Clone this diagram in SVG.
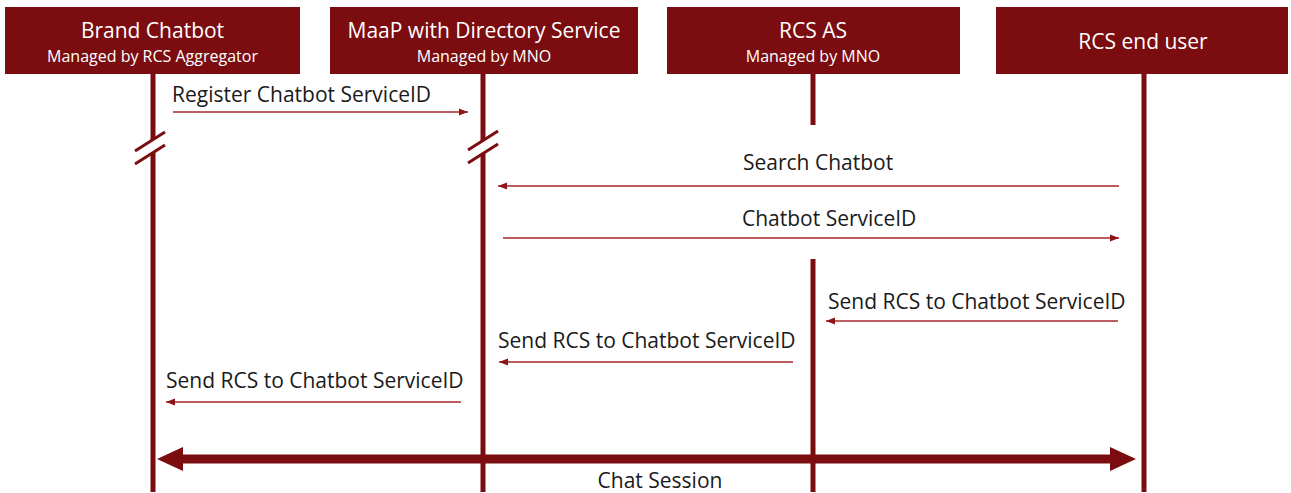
<svg xmlns="http://www.w3.org/2000/svg" width="1291" height="493" viewBox="0 0 1291 493">
  <defs>
    <style>
      .box { fill: #7B0C10; }
      .title { font-family: "Open Sans", "Noto Sans", sans-serif; font-size: 21px; fill: #ffffff; text-anchor: middle; }
      .sub { font-family: "Open Sans", "Noto Sans", sans-serif; font-size: 16px; fill: #ffffff; text-anchor: middle; }
      .life { stroke: #7B0C10; stroke-width: 5; fill: none; }
      .msg { stroke: #A3262B; stroke-width: 1.3; fill: none; }
      .lbl { font-family: "Open Sans", "Noto Sans", sans-serif; font-size: 21px; fill: #1a1a1a; }
      .brk { fill: #ffffff; stroke: none; }
      .slash { stroke: #7B0C10; stroke-width: 3; fill: none; }
      .big { stroke: #7B0C10; stroke-width: 9; fill: none; }
    </style>
    <marker id="ah" viewBox="0 0 10 8" refX="10" refY="4" markerUnits="userSpaceOnUse" markerWidth="9" markerHeight="7.5" orient="auto">
      <path d="M0,0 L10,4 L0,8 Z" fill="#8E1418"/>
    </marker>
  </defs>
  <rect width="1291" height="493" fill="#ffffff"/>

  <g id="node-brand-chatbot">
    <rect class="box" x="5" y="7" width="295" height="67"/>
    <text class="title" x="152.5" y="38">Brand Chatbot</text>
    <text class="sub" x="152.5" y="62">Managed by RCS Aggregator</text>
    <line class="life" x1="153" y1="74" x2="153" y2="492"/>
  </g>

  <g id="node-maap">
    <rect class="box" x="330" y="7" width="308" height="67"/>
    <text class="title" x="484" y="38">MaaP with Directory Service</text>
    <text class="sub" x="484" y="62">Managed by MNO</text>
    <line class="life" x1="483" y1="74" x2="483" y2="492"/>
  </g>

  <g id="node-rcs-as">
    <rect class="box" x="667" y="7" width="293" height="67"/>
    <text class="title" x="813" y="38">RCS AS</text>
    <text class="sub" x="813" y="62">Managed by MNO</text>
    <line class="life" x1="813" y1="74" x2="813" y2="125"/>
    <line class="life" x1="813" y1="259" x2="813" y2="492"/>
  </g>

  <g id="node-end-user">
    <rect class="box" x="996" y="7" width="292" height="67"/>
    <text class="title" x="1143" y="49">RCS end user</text>
    <line class="life" x1="1144" y1="74" x2="1144" y2="492"/>
  </g>

  <g id="breaks">
    <polygon class="brk" points="135,151 165,132 165,145 135,164"/>
    <line class="slash" x1="135" y1="151" x2="165" y2="132"/>
    <line class="slash" x1="135" y1="164" x2="165" y2="145"/>
    <polygon class="brk" points="468,150 498,131 498,144 468,163"/>
    <line class="slash" x1="468" y1="150" x2="498" y2="131"/>
    <line class="slash" x1="468" y1="163" x2="498" y2="144"/>
  </g>

  <g id="connectors">
    <line class="msg" x1="173" y1="112" x2="468" y2="112" marker-end="url(#ah)"/>
    <text class="lbl" x="172" y="102">Register Chatbot ServiceID</text>

    <line class="msg" x1="1119" y1="186" x2="498" y2="186" marker-end="url(#ah)"/>
    <text class="lbl" x="743" y="170">Search Chatbot</text>

    <line class="msg" x1="503" y1="238" x2="1119" y2="238" marker-end="url(#ah)"/>
    <text class="lbl" x="742" y="226">Chatbot ServiceID</text>

    <line class="msg" x1="1118" y1="321" x2="826" y2="321" marker-end="url(#ah)"/>
    <text class="lbl" x="828" y="309">Send RCS to Chatbot ServiceID</text>

    <line class="msg" x1="793" y1="362" x2="499" y2="362" marker-end="url(#ah)"/>
    <text class="lbl" x="498" y="348">Send RCS to Chatbot ServiceID</text>

    <line class="msg" x1="461" y1="402" x2="166" y2="402" marker-end="url(#ah)"/>
    <text class="lbl" x="166" y="388">Send RCS to Chatbot ServiceID</text>

    <line class="big" x1="180" y1="459" x2="1114" y2="459"/>
    <polygon points="157,459 183,447 183,471" fill="#7B0C10"/>
    <polygon points="1136,459 1110,447 1110,471" fill="#7B0C10"/>
    <text class="lbl" x="660" y="488" text-anchor="middle">Chat Session</text>
  </g>
</svg>
